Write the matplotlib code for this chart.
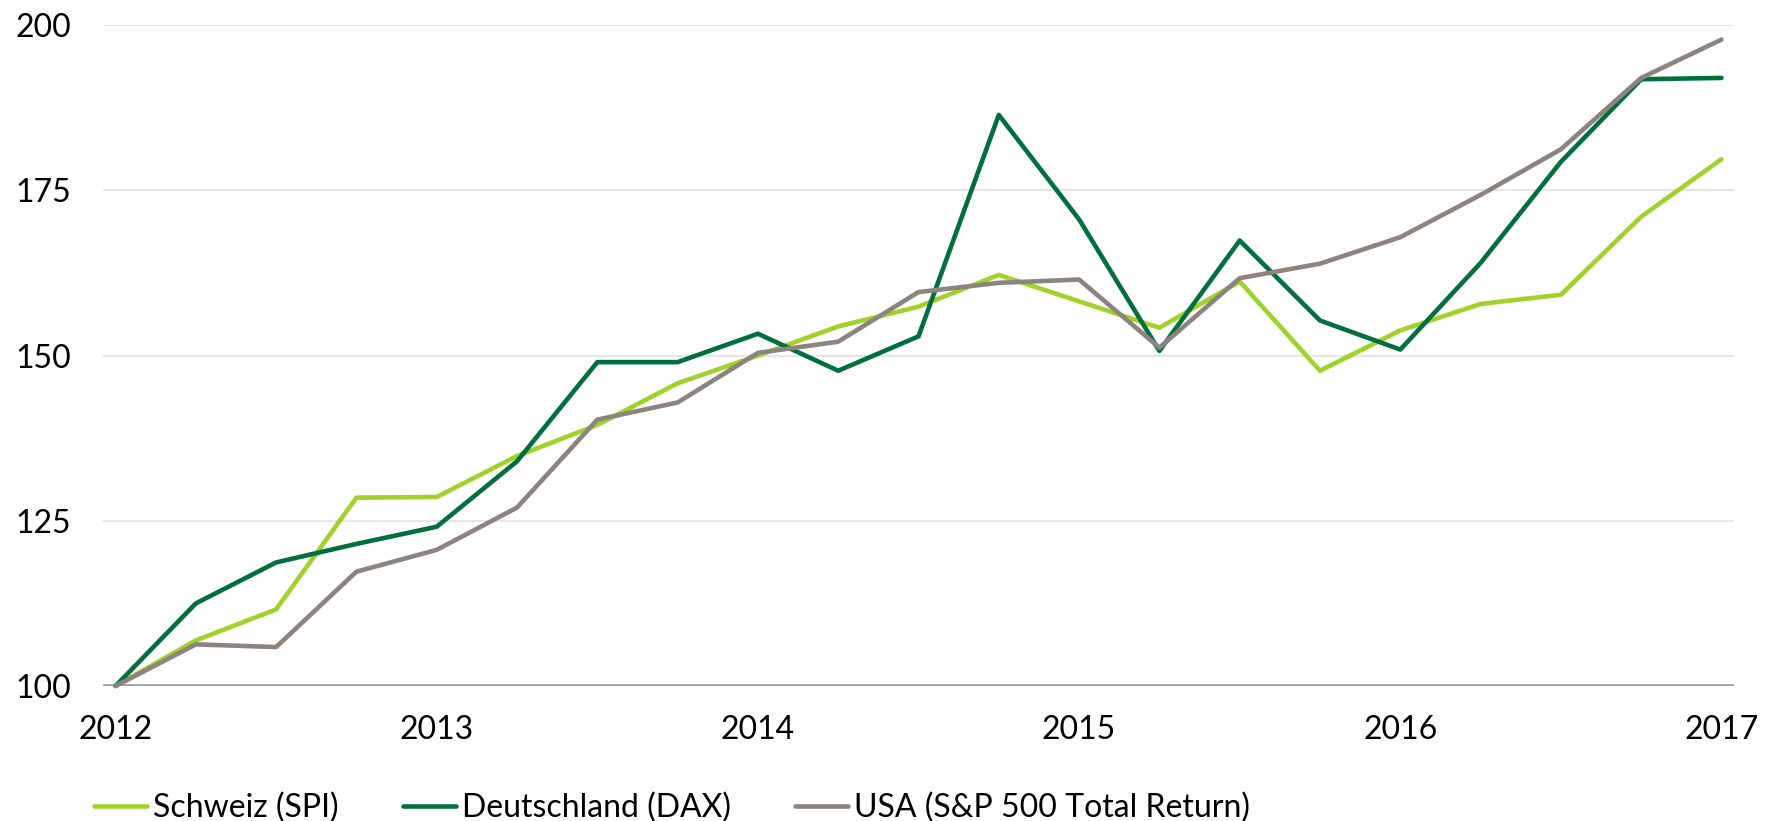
import numpy as np
import matplotlib
matplotlib.use("Agg")
import matplotlib.pyplot as plt

plt.rcParams["font.family"] = ["Lato", "DejaVu Sans"]

# quarterly index values, 2012 = 100
quarters = np.arange(2012, 2017.01, 0.25)
spi = [100.0, 106.9, 111.6, 128.5, 128.6, 134.8, 139.5, 145.8, 150.0, 154.4, 157.4,
       162.2, 158.2, 154.2, 161.2, 147.7, 153.8, 157.8, 159.2, 171.0, 179.7]
dax = [100.0, 112.5, 118.7, 121.5, 124.1, 134.0, 149.0, 149.0, 153.3, 147.7, 152.9,
       186.4, 170.6, 150.7, 167.4, 155.3, 150.9, 164.0, 179.3, 191.8, 192.0]
usa = [100.0, 106.3, 105.9, 117.3, 120.6, 127.0, 140.3, 142.9, 150.4, 152.1, 159.6,
       161.0, 161.5, 151.2, 161.7, 163.9, 167.9, 174.3, 181.2, 192.0, 197.8]
labels = ["Schweiz (SPI)", "Deutschland (DAX)", "USA (S&P 500 Total Return)"]
colors = ["#A0D22B", "#006F3D", "#8C847E"]
years = [2012, 2013, 2014, 2015, 2016, 2017]
yticks = [100, 125, 150, 175, 200]

fig = plt.figure(figsize=(17.79, 8.21), dpi=100)
ax = fig.add_axes([0.0579, 0.1644, 0.9168, 0.8051])

for yt in yticks[1:]:
    ax.axhline(yt, color="#E6E6E6", lw=1.5, zorder=0)
ax.axhline(100, color="#A29C97", lw=2.6, zorder=1)

for series, label, color in zip([spi, dax, usa], labels, colors):
    ax.plot(quarters, series, color=color, lw=3.3, label=label,
            solid_capstyle="round", clip_on=False, zorder=3)

ax.set_xlim(2012 - 0.039, 2017 + 0.039)
ax.set_ylim(100, 200)
ax.set_xticks(years)
ax.set_xticklabels([str(y) for y in years])
ax.set_yticks(yticks)
ax.tick_params(axis="both", length=0, labelsize=23, colors="#000000")
ax.tick_params(axis="y", pad=23)
ax.tick_params(axis="x", pad=21)
for side in ax.spines.values():
    side.set_visible(False)

fig.legend(loc="center left", bbox_to_anchor=(0.053, 0.016), ncol=3, frameon=False,
           fontsize=23, handlelength=1.65, handletextpad=0.2, columnspacing=2.0,
           borderpad=0, borderaxespad=0)

fig.savefig("out.png", dpi=100)
